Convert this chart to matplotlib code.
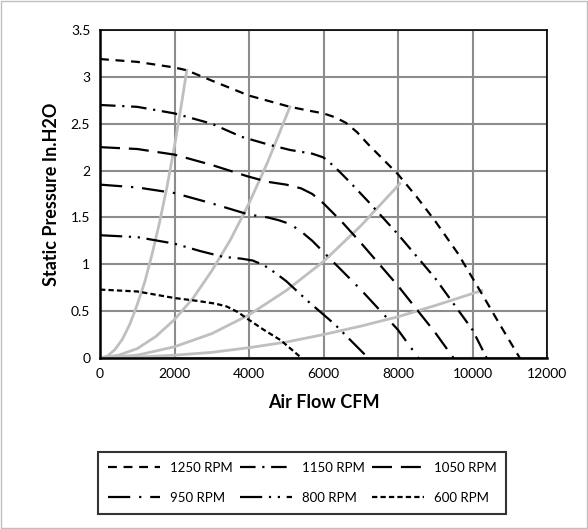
import numpy as np
import matplotlib
matplotlib.use("Agg")
import matplotlib.pyplot as plt
from matplotlib.patches import Rectangle

plt.rcParams['font.family'] = ['Lato', 'DejaVu Sans']

# fan curves (CFM, in. H2O)
rpm_1250_x = [0, 1000, 2000, 2330, 3000, 4000, 5100, 5600, 6000, 6300, 6600, 6900, 7200, 7600, 8000, 8500, 9000, 9600, 10200, 10700, 11270]
rpm_1250_y = [3.19, 3.16, 3.10, 3.07, 2.96, 2.80, 2.68, 2.64, 2.61, 2.57, 2.51, 2.41, 2.28, 2.12, 1.96, 1.72, 1.46, 1.12, 0.72, 0.38, 0.0]

rpm_1150_x = [0, 1000, 2000, 3000, 3800, 4500, 5100, 5700, 6000, 6300, 6700, 7200, 8000, 9000, 10000, 10380]
rpm_1150_y = [2.70, 2.68, 2.61, 2.50, 2.36, 2.28, 2.22, 2.18, 2.14, 2.04, 1.88, 1.67, 1.32, 0.85, 0.30, 0.0]

rpm_1050_x = [0, 1000, 2000, 3000, 3950, 4500, 5000, 5400, 5700, 6000, 6500, 7000, 8000, 9000, 9490]
rpm_1050_y = [2.25, 2.23, 2.17, 2.06, 1.94, 1.88, 1.85, 1.81, 1.75, 1.65, 1.45, 1.23, 0.77, 0.27, 0.0]

rpm_950_x = [0, 1000, 2000, 3000, 4000, 4500, 4800, 5100, 5400, 5700, 6000, 7000, 8000, 8550]
rpm_950_y = [1.85, 1.82, 1.76, 1.65, 1.53, 1.50, 1.47, 1.43, 1.35, 1.25, 1.13, 0.73, 0.30, 0.0]

rpm_800_x = [0, 1000, 2000, 2700, 3300, 3800, 4100, 4400, 4700, 5000, 5600, 6300, 7200]
rpm_800_y = [1.31, 1.29, 1.22, 1.14, 1.08, 1.06, 1.04, 0.99, 0.91, 0.82, 0.60, 0.36, 0.0]

rpm_600_x = [0, 1000, 2000, 2600, 3100, 3400, 3700, 3950, 4400, 4850, 5410]
rpm_600_y = [0.73, 0.71, 0.64, 0.61, 0.58, 0.55, 0.49, 0.42, 0.30, 0.19, 0.0]

# system curves (grey)
sys1_x = [0, 200, 400, 600, 800, 1000, 1200, 1400, 1600, 1800, 2000, 2200, 2330]
sys1_y = [0.0, 0.02, 0.09, 0.20, 0.36, 0.57, 0.81, 1.11, 1.45, 1.83, 2.26, 2.74, 3.07]
sys2_x = [0, 500, 1000, 1500, 2000, 2500, 3000, 3500, 4000, 4500, 5100]
sys2_y = [0.0, 0.03, 0.10, 0.23, 0.41, 0.64, 0.93, 1.26, 1.65, 2.09, 2.68]
sys3_x = [0, 1000, 2000, 3000, 4000, 5000, 6000, 7000, 8050]
sys3_y = [0.0, 0.03, 0.12, 0.26, 0.46, 0.72, 1.03, 1.41, 1.86]
sys4_x = [0, 1000, 2000, 3000, 4000, 5000, 6000, 7000, 8000, 9000, 10250]
sys4_y = [0.0, 0.01, 0.03, 0.06, 0.11, 0.17, 0.25, 0.34, 0.44, 0.56, 0.72]

labels = ['1250 RPM', '1150 RPM', '1050 RPM', '950 RPM', '800 RPM', '600 RPM']
x_ticks = [0, 2000, 4000, 6000, 8000, 10000, 12000]
y_ticks = [0, 0.5, 1, 1.5, 2, 2.5, 3, 3.5]

fig = plt.figure(figsize=(5.88, 5.29), dpi=100)
ax = fig.add_axes([100/588, 1-358/529, 447/588, 328/529])

for sx, sy in [(sys1_x, sys1_y), (sys2_x, sys2_y), (sys3_x, sys3_y), (sys4_x, sys4_y)]:
    ax.plot(sx, sy, color='#bfbfbf', lw=2.0, zorder=2)

styles = [(0, (4, 3)),
          (0, (7, 3, 1, 3)),
          (0, (9, 4)),
          (0, (10, 4, 1, 4)),
          (0, (10, 3, 1, 3, 1, 3)),
          (0, (2.4, 1.4))]
series = [(rpm_1250_x, rpm_1250_y), (rpm_1150_x, rpm_1150_y), (rpm_1050_x, rpm_1050_y),
          (rpm_950_x, rpm_950_y), (rpm_800_x, rpm_800_y), (rpm_600_x, rpm_600_y)]
handles = []
for (x, y), ls, lab in zip(series, styles, labels):
    h, = ax.plot(x, y, color='black', lw=1.6, linestyle=ls, label=lab, zorder=3)
    handles.append(h)

ax.set_xlim(0, 12000)
ax.set_ylim(0, 3.5)
ax.set_xticks(x_ticks)
ax.set_yticks(y_ticks)
ax.set_yticklabels(['0', '0.5', '1', '1.5', '2', '2.5', '3', '3.5'])
ax.tick_params(length=0, labelsize=10, pad=7)
ax.grid(True, color='#8c8c8c', lw=1.5, zorder=1)
ax.set_axisbelow(True)
for sp in ax.spines.values():
    sp.set_color('black')
    sp.set_linewidth(1.2)
ax.spines['left'].set_linewidth(1.8)
ax.spines['bottom'].set_linewidth(1.8)

ax.set_xlabel('Air Flow CFM', fontsize=13, fontweight='bold', labelpad=10)
ax.set_ylabel('Static Pressure In.H2O', fontsize=13, fontweight='bold', labelpad=8)

# legend is filled column-wise, so reorder for row-wise reading
order = [0, 3, 1, 4, 2, 5]
leg = fig.legend([handles[i] for i in order], [labels[i] for i in order],
                 ncol=3, loc='center', bbox_to_anchor=(302/588, 1-483/529),
                 frameon=True, fancybox=False, edgecolor='black', fontsize=9.5,
                 handlelength=4.0, columnspacing=0.55, handletextpad=0.7,
                 borderpad=0.75, labelspacing=1.35, borderaxespad=0)
leg.get_frame().set_linewidth(1.5)

fig.patches.append(Rectangle((0.002, 0.002), 0.996, 0.996, transform=fig.transFigure,
                             fill=False, edgecolor='#bfbfbf', lw=1.0))

fig.savefig('out.png', dpi=100)
